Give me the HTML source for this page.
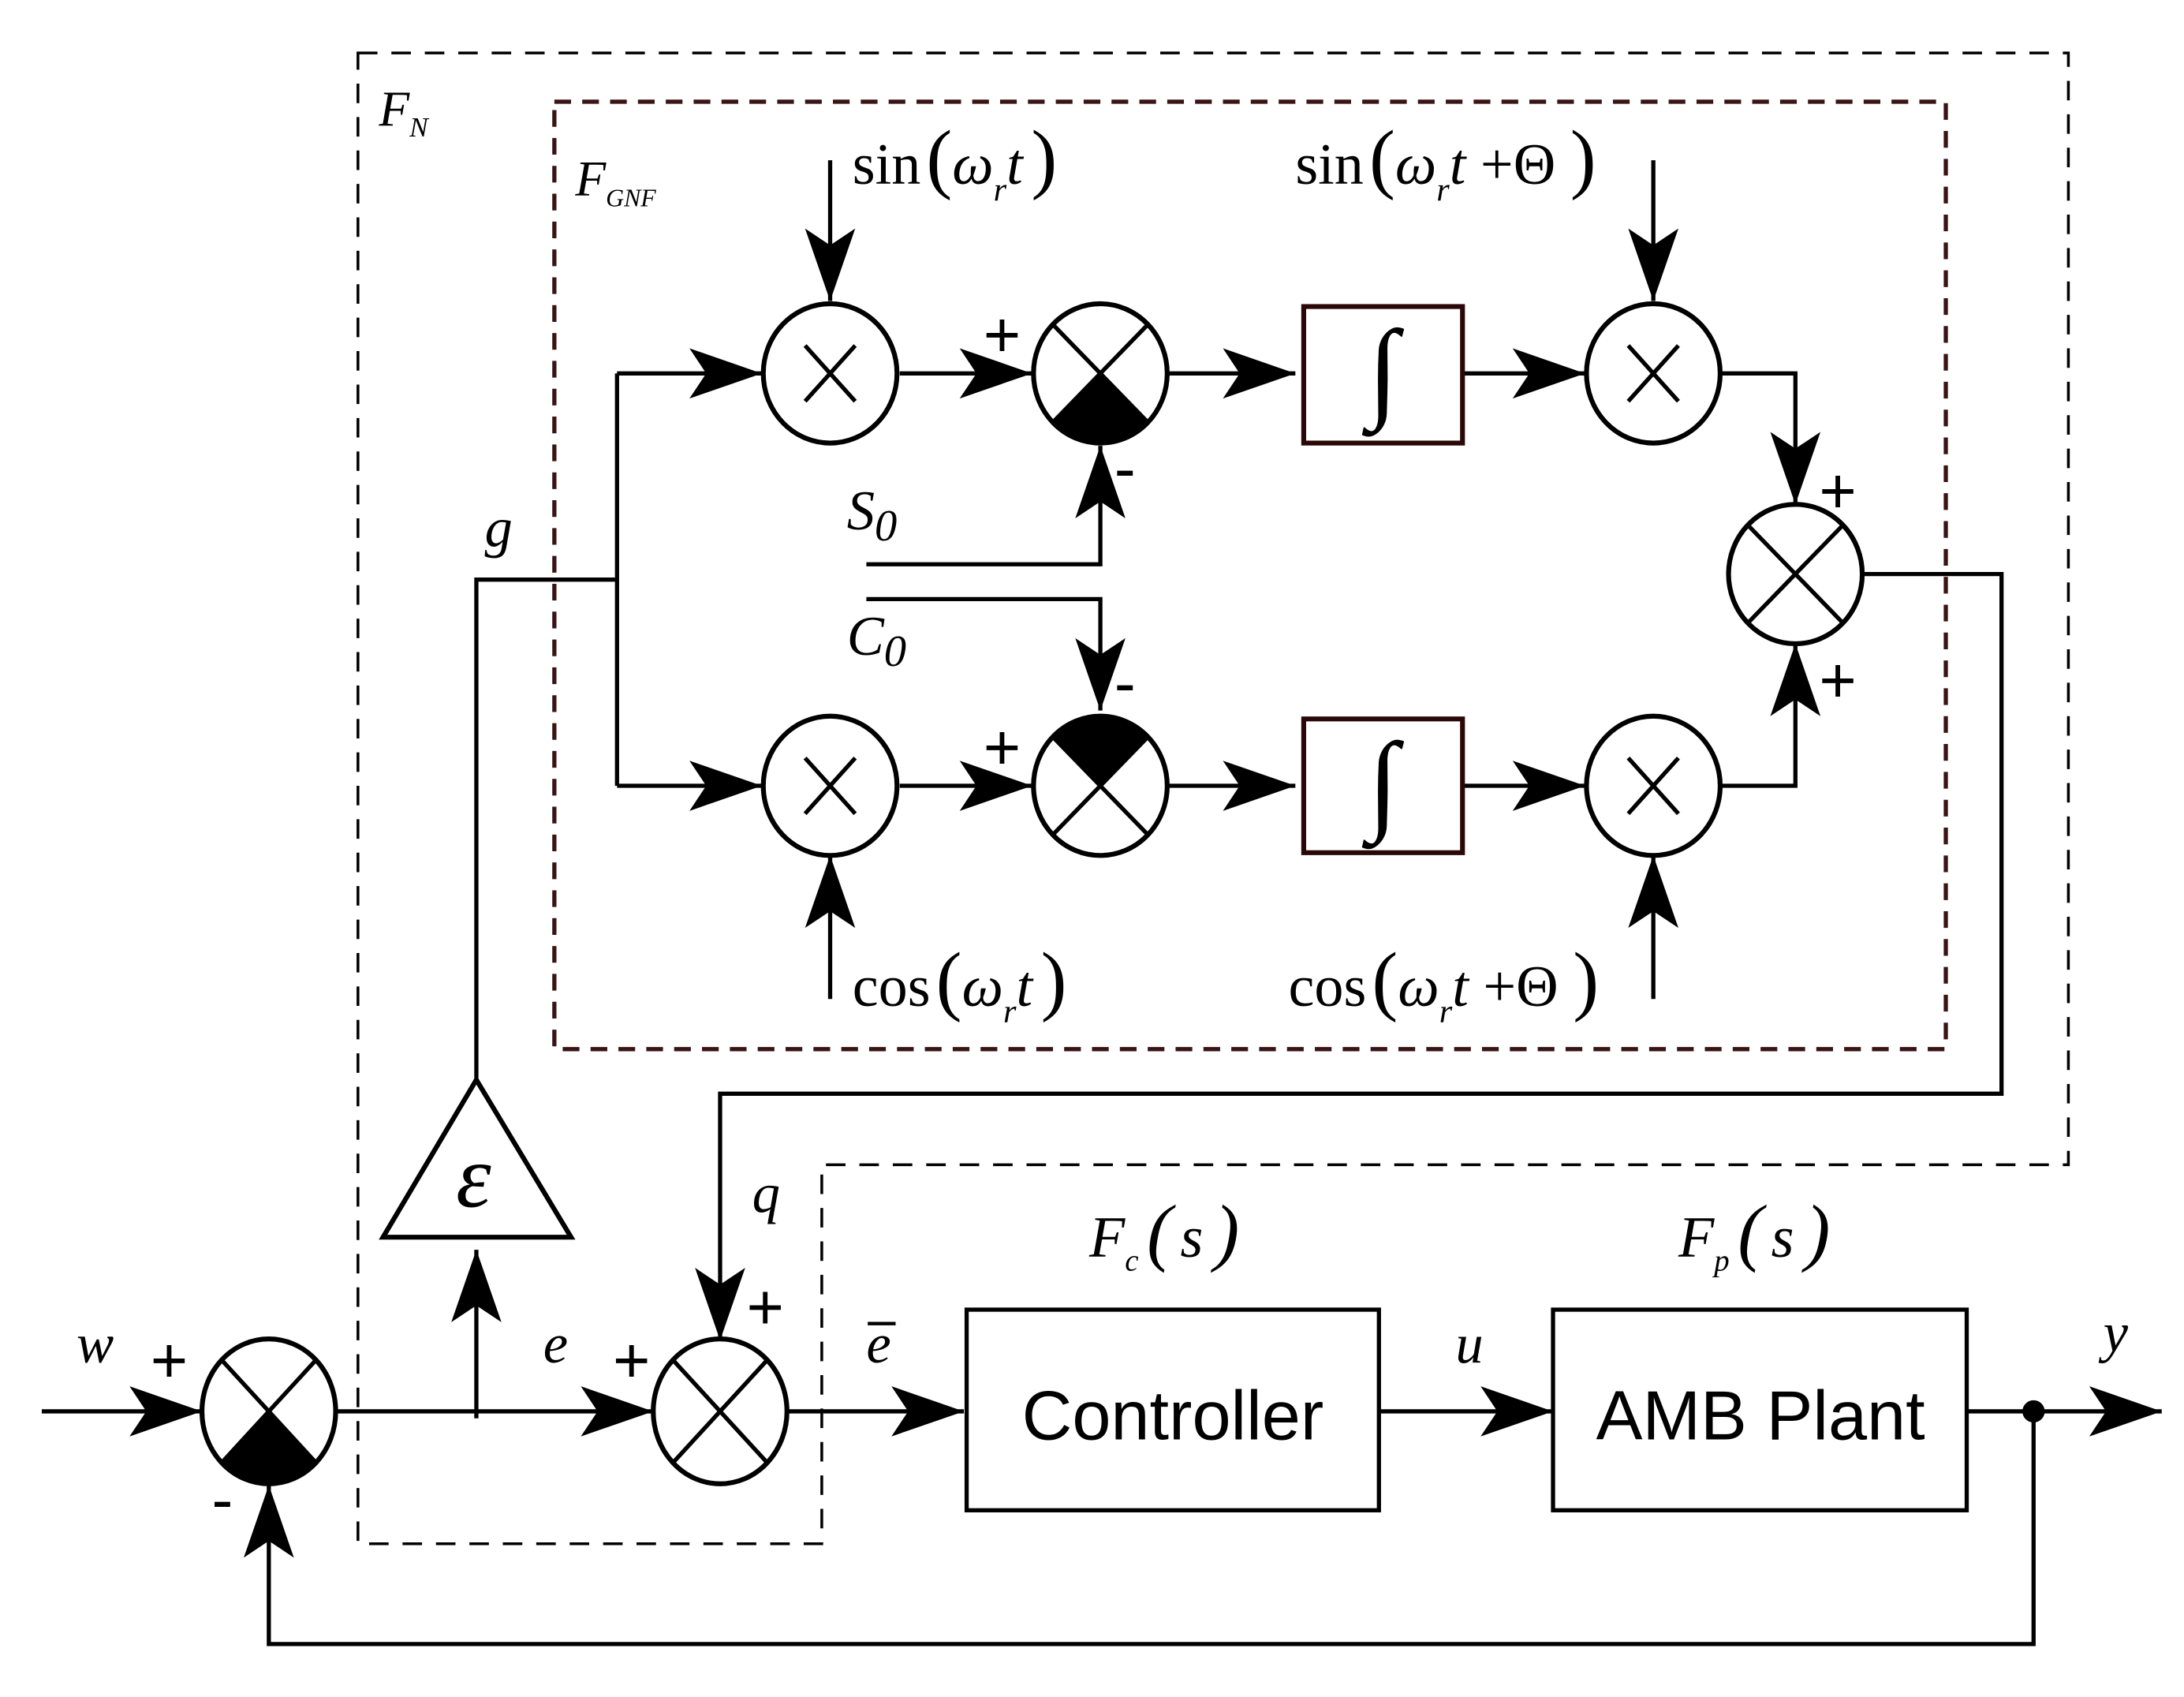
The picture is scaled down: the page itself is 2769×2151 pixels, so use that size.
<!DOCTYPE html>
<html><head><meta charset="utf-8"><style>
html,body{margin:0;padding:0;background:#fff;}
svg{display:block;}
.m{font-family:"Liberation Serif",serif;font-style:italic;}
.r{font-family:"Liberation Serif",serif;}
.s{font-family:"Liberation Sans",sans-serif;}
</style></head><body>
<svg width="2769" height="2151" viewBox="0 0 1568 1218" xmlns="http://www.w3.org/2000/svg">
<defs>
<marker id="a" markerUnits="userSpaceOnUse" markerWidth="60" markerHeight="44" refX="56" refY="22" orient="auto" viewBox="0 0 60 44">
<path d="M56,22 L4,4 L16,22 L4,40 Z" fill="#000"/>
</marker>
</defs>
<rect width="1568" height="1218" fill="#fff"/>
<g fill="none" stroke="#000" stroke-width="2" stroke-dasharray="14,10">
<path d="M257,38 H1485 V836 H590 V1108 H257 Z"/>
</g>
<rect x="398" y="73" width="999" height="680" fill="none" stroke="#3a1414" stroke-width="3" stroke-dasharray="12,8"/>
<g fill="none" stroke="#000" stroke-width="3">
<polyline points="342,775 342,416 443,416"/>
<line x1="443" y1="268" x2="443" y2="564"/>
<line x1="443" y1="268" x2="547" y2="268" marker-end="url(#a)"/>
<line x1="443" y1="564" x2="547" y2="564" marker-end="url(#a)"/>
<line x1="646" y1="268" x2="741" y2="268" marker-end="url(#a)"/>
<line x1="646" y1="564" x2="741" y2="564" marker-end="url(#a)"/>
<line x1="838" y1="268" x2="930" y2="268" marker-end="url(#a)"/>
<line x1="838" y1="564" x2="930" y2="564" marker-end="url(#a)"/>
<line x1="1050" y1="268" x2="1138" y2="268" marker-end="url(#a)"/>
<line x1="1050" y1="564" x2="1138" y2="564" marker-end="url(#a)"/>
<polyline points="1236,268 1289,268 1289,362" marker-end="url(#a)"/>
<polyline points="1236,564 1289,564 1289,462" marker-end="url(#a)"/>
<polyline points="1338,412 1437,412 1437,785 517,785 517,962" marker-end="url(#a)"/>
<line x1="596" y1="115" x2="596" y2="216" marker-end="url(#a)"/>
<line x1="1187" y1="115" x2="1187" y2="216" marker-end="url(#a)"/>
<line x1="596" y1="717" x2="596" y2="614" marker-end="url(#a)"/>
<line x1="1187" y1="717" x2="1187" y2="614" marker-end="url(#a)"/>
<polyline points="622,405 790,405 790,320" marker-end="url(#a)"/>
<polyline points="622,430 790,430 790,510" marker-end="url(#a)"/>
<line x1="30" y1="1013" x2="145" y2="1013" marker-end="url(#a)"/>
<line x1="241" y1="1013" x2="469" y2="1013" marker-end="url(#a)"/>
<line x1="342" y1="1018" x2="342" y2="897" marker-end="url(#a)"/>
<line x1="566" y1="1013" x2="692" y2="1013" marker-end="url(#a)"/>
<line x1="990" y1="1013" x2="1115" y2="1013" marker-end="url(#a)"/>
<line x1="1412" y1="1013" x2="1552" y2="1013" marker-end="url(#a)"/>
<polyline points="1460,1013 1460,1180 193,1180 193,1066" marker-end="url(#a)"/>
</g>
<circle cx="1460" cy="1013" r="8" fill="#000"/>
<polygon points="342,775 275,888 410,888" fill="#fff" stroke="#000" stroke-width="3.5"/>
<text x="340" y="866" class="m" font-size="64" text-anchor="middle">ε</text>
<g fill="#fff" stroke="#000" stroke-width="3.5">
<ellipse cx="596" cy="268" rx="48" ry="50"/>
<ellipse cx="1187" cy="268" rx="48" ry="50"/>
<ellipse cx="596" cy="564" rx="48" ry="50"/>
<ellipse cx="1187" cy="564" rx="48" ry="50"/>
</g>
<g stroke="#000" stroke-width="3">
<path d="M578,248 L614,288 M614,248 L578,288"/>
<path d="M1169,248 L1205,288 M1205,248 L1169,288"/>
<path d="M578,544 L614,584 M614,544 L578,584"/>
<path d="M1169,544 L1205,584 M1205,544 L1169,584"/>
</g>
<g stroke="#000" stroke-width="3.5" fill="#fff">
<ellipse cx="790" cy="268" rx="48" ry="50"/>
<ellipse cx="790" cy="564" rx="48" ry="50"/>
<ellipse cx="1289" cy="412" rx="48" ry="50"/>
<ellipse cx="193" cy="1013" rx="48" ry="52"/>
<ellipse cx="517" cy="1013" rx="48" ry="52"/>
</g>
<g fill="#000">
<path d="M790,268 L824,303 A48 50 0 0 1 756,303 Z"/>
<path d="M790,564 L756,529 A48 50 0 0 1 824,529 Z"/>
<path d="M193,1013 L227,1050 A48 52 0 0 1 159,1050 Z"/>
</g>
<g stroke="#000" stroke-width="3">
<path d="M756,233 L824,303 M824,233 L756,303"/>
<path d="M756,529 L824,599 M824,529 L756,599"/>
<path d="M1255,377 L1323,447 M1323,377 L1255,447"/>
<path d="M159,976 L227,1050 M227,976 L159,1050"/>
<path d="M483,976 L551,1050 M551,976 L483,1050"/>
</g>
<rect x="936" y="220" width="114" height="98" fill="#fff" stroke="#2a0808" stroke-width="3.5"/>
<rect x="936" y="516" width="114" height="96" fill="#fff" stroke="#2a0808" stroke-width="3.5"/>
<text x="993" y="292" class="r" font-size="80" text-anchor="middle">∫</text>
<text x="993" y="588" class="r" font-size="80" text-anchor="middle">∫</text>
<rect x="694" y="940" width="296" height="144" fill="#fff" stroke="#000" stroke-width="3"/>
<rect x="1115" y="940" width="297" height="144" fill="#fff" stroke="#000" stroke-width="3"/>
<text x="842" y="1033" class="s" font-size="50" text-anchor="middle">Controller</text>
<text x="1264" y="1033" class="s" font-size="50" text-anchor="middle">AMB Plant</text>
<g class="s" font-size="46">
<text x="706" y="256">+</text><text x="800" y="352">-</text>
<text x="706" y="552">+</text><text x="800" y="506">-</text>
<text x="1306" y="368">+</text><text x="1306" y="504">+</text>
<text x="108" y="992">+</text><text x="152" y="1092">-</text>
<text x="440" y="992">+</text><text x="536" y="954">+</text>
</g>
<text x="272" y="90" class="m" font-size="36">F<tspan font-size="20" dy="8">N</tspan></text>
<text x="413" y="140" class="m" font-size="36">F<tspan font-size="18" dy="8">GNF</tspan></text>
<text x="348" y="392" class="m" font-size="40">g</text>
<text x="608" y="380" class="m" font-size="40">S<tspan font-size="32" dy="8">0</tspan></text>
<text x="608" y="470" class="m" font-size="40">C<tspan font-size="32" dy="8">0</tspan></text>
<text x="612" y="132" class="r" font-size="42">sin<tspan font-size="56" dx="4">(</tspan><tspan class="m">ω</tspan><tspan class="m" font-size="24" dy="12">r</tspan><tspan class="m" dy="-12">t</tspan><tspan font-size="56" dx="6">)</tspan></text>
<text x="930" y="132" class="r" font-size="42">sin<tspan font-size="56" dx="4">(</tspan><tspan class="m">ω</tspan><tspan class="m" font-size="24" dy="12">r</tspan><tspan class="m" dy="-12">t</tspan> +Θ <tspan font-size="56">)</tspan></text>
<text x="612" y="722" class="r" font-size="42">cos<tspan font-size="56" dx="4">(</tspan><tspan class="m">ω</tspan><tspan class="m" font-size="24" dy="12">r</tspan><tspan class="m" dy="-12">t</tspan><tspan font-size="56" dx="6">)</tspan></text>
<text x="925" y="722" class="r" font-size="42">cos<tspan font-size="56" dx="4">(</tspan><tspan class="m">ω</tspan><tspan class="m" font-size="24" dy="12">r</tspan><tspan class="m" dy="-12">t</tspan> +Θ <tspan font-size="56">)</tspan></text>
<text x="55" y="978" class="m" font-size="40">w</text>
<text x="390" y="978" class="m" font-size="40">e</text>
<text x="622" y="978" class="m" font-size="40">e</text>
<line x1="623" y1="950" x2="643" y2="950" stroke="#000" stroke-width="2.5"/>
<text x="540" y="870" class="m" font-size="40">q</text>
<text x="1045" y="978" class="m" font-size="40">u</text>
<text x="1510" y="970" class="m" font-size="40">y</text>
<text x="782" y="902" class="m" font-size="42">F<tspan font-size="22" dy="10">c</tspan><tspan class="r" font-size="54" dy="-10" dx="6">(</tspan><tspan dx="6">s</tspan><tspan class="r" font-size="54" dx="8">)</tspan></text>
<text x="1205" y="902" class="m" font-size="42">F<tspan font-size="22" dy="10">p</tspan><tspan class="r" font-size="54" dy="-10" dx="6">(</tspan><tspan dx="6">s</tspan><tspan class="r" font-size="54" dx="8">)</tspan></text>
</svg>
</body></html>
